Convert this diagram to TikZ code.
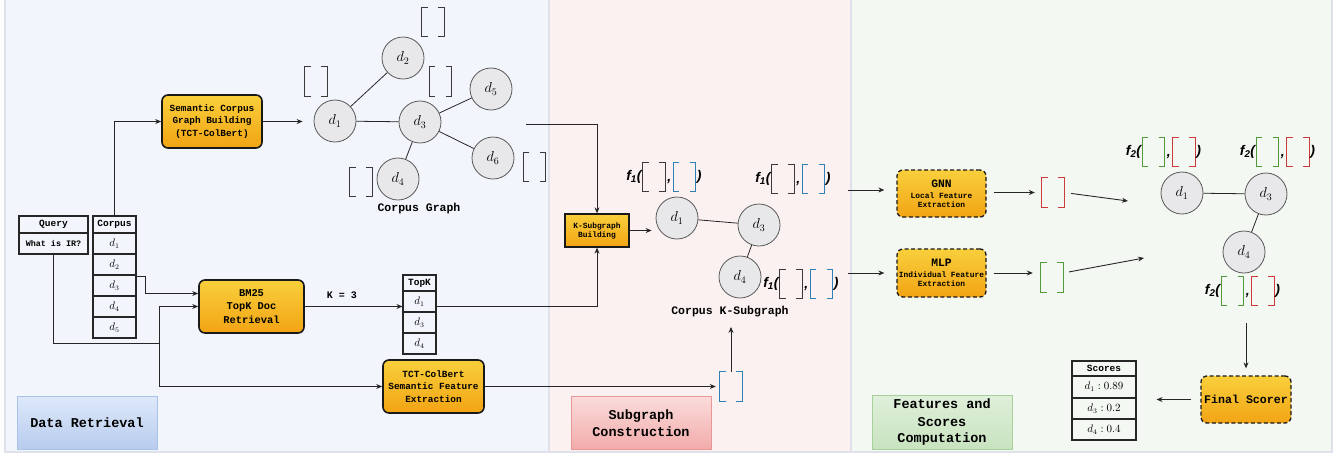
\documentclass[tikz,border=0pt]{standalone}
\usepackage{amsmath}
\usepackage{fontspec}
\setmonofont{Liberation Mono}
\newfontfamily\fsans{Liberation Sans}
\usetikzlibrary{positioning, calc, arrows.meta}

% Colours
\definecolor{panelA}{HTML}{F2F6FC}
\definecolor{panelB}{HTML}{FCF1F1}
\definecolor{panelC}{HTML}{F4F8F2}
\definecolor{panelline}{HTML}{DFE2EA}
\definecolor{boxtop}{HTML}{F9CF3C}
\definecolor{boxbot}{HTML}{F2A414}
\definecolor{docgray}{HTML}{E8E8EA}
\definecolor{vecgray}{HTML}{3A3A3A}
\definecolor{vecblue}{HTML}{2F80B5}
\definecolor{vecred}{HTML}{CC3A3A}
\definecolor{vecgreen}{HTML}{4F9B3A}
\definecolor{labAtop}{HTML}{DDE8FA}
\definecolor{labAbot}{HTML}{B8CCEE}
\definecolor{labAline}{HTML}{A8C2EA}
\definecolor{labBtop}{HTML}{FADCDB}
\definecolor{labBbot}{HTML}{F2ABAA}
\definecolor{labBline}{HTML}{E79896}
\definecolor{labCtop}{HTML}{DFEFDA}
\definecolor{labCbot}{HTML}{C8E3BF}
\definecolor{labCline}{HTML}{A7D19B}

\tikzset{
  >={Stealth[length=6pt, width=5pt]},
  link/.style={draw=black!85, line width=0.9pt},
  procbox/.style={draw=black!90, line width=1.6pt, rounded corners=6pt,
    top color=boxtop, bottom color=boxbot, align=center, inner sep=1pt,
    font=\ttfamily\bfseries\fontsize{9.4}{12.5}\selectfont},
  dashbox/.style={procbox, line width=1.3pt, dash pattern=on 4pt off 2.5pt},
  cell/.style={draw=black!85, line width=1.1pt, inner sep=0pt,
    font=\fontsize{10.5}{12}\selectfont},
  headcell/.style={cell, font=\ttfamily\bfseries\fontsize{9.5}{11}\selectfont},
  docnode/.style={circle, draw=black!65, fill=docgray, line width=0.8pt,
    minimum size=42pt, inner sep=0pt, font=\fontsize{14.4}{17}\selectfont},
  caption/.style={font=\ttfamily\bfseries\fontsize{11.5}{13}\selectfont},
  fsym/.style={inner sep=0pt, font=\fsans\bfseries\itshape\fontsize{14}{16}\selectfont},
  phaselab/.style={minimum width=140pt, minimum height=53pt, align=center,
    line width=0.9pt, font=\ttfamily\bfseries\fontsize{13.5}{17}\selectfont},
  vecbr/.style={minimum width=22pt, minimum height=29pt, inner sep=0pt,
    append after command={\pgfextra{
      \draw[#1, line width=1.1pt]
        ([xshift=6pt]\tikzlastnode.north west) -- (\tikzlastnode.north west)
        -- (\tikzlastnode.south west) -- ([xshift=6pt]\tikzlastnode.south west)
        ([xshift=-6pt]\tikzlastnode.north east) -- (\tikzlastnode.north east)
        -- (\tikzlastnode.south east) -- ([xshift=-6pt]\tikzlastnode.south east);
    }}},
  vecbr/.default=vecgray
}

% f(.,.) label: name, first bracket position, index, colours
\newcommand{\fpair}[5]{%
  \node[vecbr=#4] (#1a) at (#2) {};
  \node[vecbr=#5, right=8pt of #1a] (#1b) {};
  \node[fsym, left=1pt of #1a] (#1f) {f\textsubscript{#3}(};
  \node[fsym] (#1c) at ($(#1a.east)!0.5!(#1b.west)+(0,5)$) {,};
  \node[fsym, right=1pt of #1b] (#1p) {)};
}

\begin{document}
\begin{tikzpicture}[x=1pt, y=-1pt]
    \useasboundingbox (0,0) rectangle (1344,456);

    % Panels
    \fill[white] (0,0) rectangle (1344,456);
    \fill[panelA] (5,0) rectangle (549,452);
    \fill[panelB] (549,0) rectangle (851,452);
    \fill[panelC] (851,0) rectangle (1332,452);
    \draw[panelline, line width=1.5pt] (5,0) -- (5,452) -- (1332,452) -- (1332,0);
    \draw[panelline, line width=2pt] (549,0) -- (549,452);
    \draw[panelline, line width=2pt] (851,0) -- (851,452);

    % Phase labels
    \node[phaselab, top color=labAtop, bottom color=labAbot, draw=labAline] (pa) at (87,423) {Data Retrieval};
    \node[phaselab, top color=labBtop, bottom color=labBbot, draw=labBline] (pb) at (641,423) {Subgraph\\Construction};
    \node[phaselab, top color=labCtop, bottom color=labCbot, draw=labCline] (pc) at (942,422.5) {Features and\\Scores\\Computation};

    % Query and corpus tables
    \node[headcell, minimum width=69pt, minimum height=17pt] (qh) at (53.5,224.5) {Query};
    \node[cell, minimum width=69pt, minimum height=21pt, font=\ttfamily\bfseries\fontsize{8.4}{10}\selectfont] (qr) at (53.5,243.5) {What is IR?};
    \node[headcell, minimum width=43pt, minimum height=17pt] (ch) at (114.5,224.5) {Corpus};
    \foreach \i in {1,...,5}
        \node[cell, minimum width=43pt, minimum height=21pt] (c\i) at (114.5,{222.5+21*\i}) {$d_{\i}$};

    % Retrieval blocks
    \node[procbox, minimum width=100pt, minimum height=53pt] (sem) at (212,121.5) {Semantic Corpus\\Graph Building\\(TCT-ColBert)};
    \node[procbox, minimum width=105pt, minimum height=53pt, font=\ttfamily\bfseries\fontsize{10.4}{13.3}\selectfont] (bm) at (251.5,306.5) {BM25\\TopK Doc\\Retrieval};
    \node[procbox, minimum width=101pt, minimum height=53pt] (tct) at (433.5,386.5) {TCT-ColBert\\Semantic Feature\\Extraction};

    % TopK table
    \node[headcell, minimum width=33pt, minimum height=16pt] (th) at (419.5,283) {TopK};
    \foreach \i/\k in {1/1,2/3,3/4}
        \node[cell, minimum width=33pt, minimum height=21pt] (t\k) at (419.5,{280.5+21*\i}) {$d_{\k}$};

    % Corpus graph
    \node[docnode] (g1) at (335,121) {$d_1$};
    \node[docnode] (g2) at (403,58) {$d_2$};
    \node[docnode] (g3) at (420,122) {$d_3$};
    \node[docnode] (g4) at (398,179) {$d_4$};
    \node[docnode] (g5) at (491,89) {$d_5$};
    \node[docnode] (g6) at (493,158) {$d_6$};
    \foreach \a/\b in {1/2,1/3,3/5,3/6,3/4}
        \draw[link, line width=0.8pt] (g\a) -- (g\b);
    \node[vecbr] (gv1) at (316,81.5) {};
    \node[vecbr] (gv2) at (433,22) {};
    \node[vecbr] (gv3) at (440.5,81.5) {};
    \node[vecbr] (gv4) at (361,182) {};
    \node[vecbr] (gv6) at (534.5,167) {};
    \node[caption] (cg) at (419,209) {Corpus Graph};

    % Retrieval connectors
    \draw[link, ->] (ch.north) |- (sem.west);
    \draw[link, ->, shorten >=11pt] (sem.east) -- (sem.east -| g1.west);
    \draw[link, ->] ([yshift=-2pt]c3.north east) -- ++(9,0) |- ([yshift=13pt]bm.west);
    \coordinate (qsplit) at (159,343);
    \draw[link] (qr.south) |- (qsplit);
    \draw[link, ->] (qsplit) |- (bm.west);
    \draw[link, ->] (qsplit) |- (tct.west);
    \draw[link, ->] (bm.east) -- (bm.east -| t1.west)
        node[pos=0.38, above=4pt, font=\ttfamily\bfseries\fontsize{10}{12}\selectfont] {K = 3};

    % Subgraph construction
    \node[procbox, rounded corners=0pt, line width=1.3pt, minimum width=64pt, minimum height=33pt,
        font=\ttfamily\bfseries\fontsize{7.9}{9}\selectfont] (ksb) at (597,230.5) {K-Subgraph\\Building};
    \draw[link, ->] (bm.east -| t1.east) -| (ksb.south);
    \coordinate (gout) at (526,124);
    \draw[link, ->] (gout) -| (ksb.north);

    \node[docnode] (s1) at (677,218) {$d_1$};
    \node[docnode] (s3) at (759,225) {$d_3$};
    \node[docnode] (s4) at (740,277) {$d_4$};
    \draw[link, line width=0.8pt] (s1) -- (s3);
    \draw[link, line width=0.8pt] (s3) -- (s4);
    \fpair{fa}{654,177}{1}{vecgray}{vecblue}
    \fpair{fb}{783,179}{1}{vecgray}{vecblue}
    \fpair{fc}{791,284}{1}{vecgray}{vecblue}
    \node[caption] (ksg) at (730,312) {Corpus K-Subgraph};
    \draw[link, ->, shorten >=4pt] (ksb.east) -- (ksb.east -| s1.west);

    \node[vecbr=vecblue] (tv) at (731,386.5) {};
    \draw[link, ->, shorten >=4pt] (tct.east) -- (tv.west);
    \draw[link, ->, shorten >=6pt] (tv.north) -- (tv.north |- ksg.south);

    % Features and scores
    \coordinate (gin) at (848,190);
    \coordinate (min) at (848,273);
    \node[dashbox, minimum width=89pt, minimum height=47pt, font=\ttfamily\bfseries\fontsize{7.9}{9}\selectfont] (gnn) at (941.5,193.5)
        {{\fontsize{11.3}{13}\selectfont GNN}\\[2pt]Local Feature\\Extraction};
    \node[dashbox, minimum width=89pt, minimum height=48pt, font=\ttfamily\bfseries\fontsize{7.9}{9}\selectfont] (mlp) at (941.5,273)
        {{\fontsize{11.3}{13}\selectfont MLP}\\[2pt]Individual Feature\\Extraction};
    \draw[link, ->, shorten >=12pt] (gin) -- (gin -| gnn.west);
    \draw[link, ->, shorten >=12pt] (min) -- (min -| mlp.west);

    \node[vecbr=vecred] (gv) at (1053,192.5) {};
    \node[vecbr=vecgreen] (mv) at (1052,277.5) {};
    \draw[link, ->, shorten <=7pt, shorten >=7pt] (gnn.east |- gv) -- (gv.west);
    \draw[link, ->, shorten <=7pt, shorten >=8pt] (mlp.east) -- (mlp.east -| mv.west);
    \coordinate (gnnin) at (1128,201);
    \coordinate (mlpin) at (1144,258);
    \draw[link, ->, shorten <=7pt] (gv.east) -- (gnnin);
    \draw[link, ->, shorten <=6pt] ([yshift=4.5pt]mv.east) -- (mlpin);

    \node[docnode] (r1) at (1182,193) {$d_1$};
    \node[docnode] (r3) at (1266,194) {$d_3$};
    \node[docnode] (r4) at (1244,252) {$d_4$};
    \draw[link, line width=0.8pt] (r1) -- (r3);
    \draw[link, line width=0.8pt] (r3) -- (r4);
    \fpair{fd}{1153.5,152}{2}{vecgreen}{vecred}
    \fpair{fe}{1267.5,152}{2}{vecgreen}{vecred}
    \fpair{ff}{1232.5,291}{2}{vecgreen}{vecred}

    \coordinate (fin) at (1246,323);
    \node[dashbox, minimum width=90pt, minimum height=47pt, font=\ttfamily\bfseries\fontsize{11.6}{13}\selectfont] (fs) at (1246,399.5) {Final Scorer};
    \draw[link, ->, shorten >=7pt] (fin) -- (fs.north);

    % Scores table
    \node[headcell, minimum width=64pt, minimum height=15pt] (sh) at (1104,368.5) {Scores};
    \node[cell, minimum width=64pt, minimum height=22pt] (sc1) at (1104,387) {$d_1 : 0.89$};
    \node[cell, minimum width=64pt, minimum height=21pt] (sc2) at (1104,408.5) {$d_3 : 0.2$};
    \node[cell, minimum width=64pt, minimum height=21pt] (sc3) at (1104,429.5) {$d_4 : 0.4$};
    \draw[link, ->, shorten <=9pt, shorten >=20pt] (fs.west) -- (fs.west -| sc2.east);
\end{tikzpicture}
\end{document}
